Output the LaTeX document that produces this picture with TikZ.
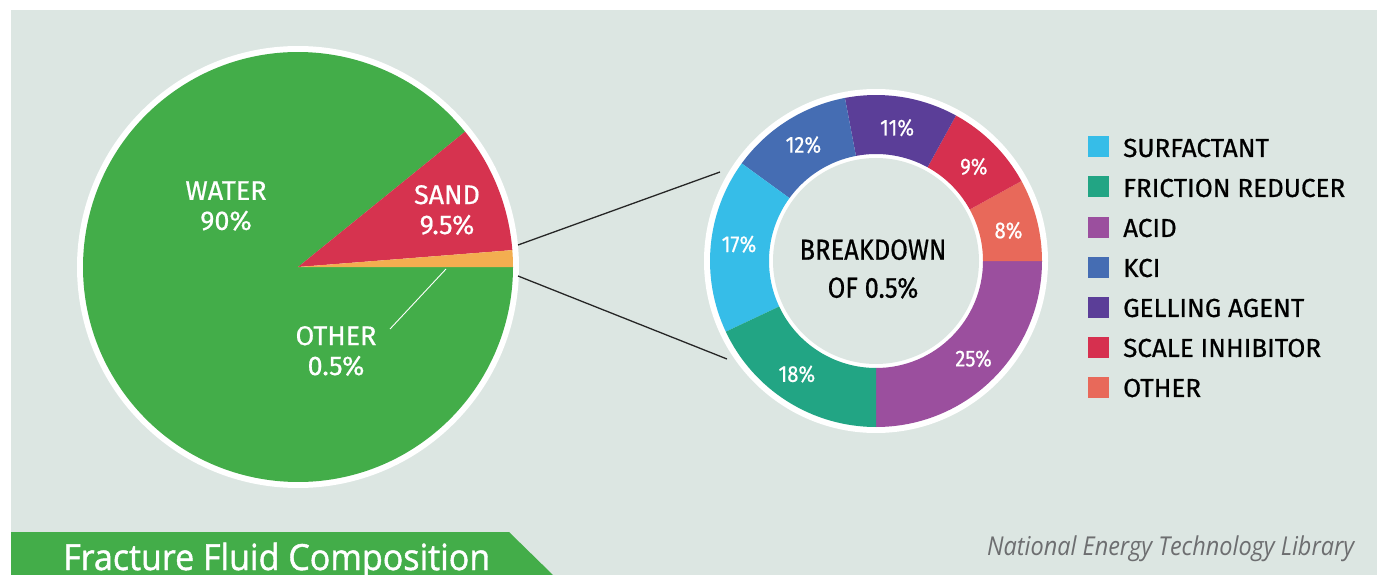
\documentclass[tikz,border=0pt]{standalone}
\usepackage{fontspec}
\usepackage{graphicx}
\usetikzlibrary{calc}
\setmainfont{Fira Sans}
\newfontfamily\din[FakeBold=0.6]{Fira Sans}
\newfontfamily\dinc[FakeStretch=0.88,FakeBold=0.6]{Fira Sans}
\newfontfamily\myr[FakeBold=1.3]{Open Sans}
\newfontfamily\myri{Open Sans}
\definecolor{bg}{HTML}{DCE6E2}
\definecolor{water}{HTML}{43AD49}
\definecolor{sand}{HTML}{D6334F}
\definecolor{orng}{HTML}{F3AE50}
\definecolor{surf}{HTML}{36BDE8}
\definecolor{fric}{HTML}{22A584}
\definecolor{acid}{HTML}{9B4F9E}
\definecolor{kcl}{HTML}{456DB3}
\definecolor{gell}{HTML}{5B3E98}
\definecolor{scal}{HTML}{D6304F}
\definecolor{othr}{HTML}{E8695A}
\definecolor{credit}{HTML}{6D6E70}
\tikzset{
  pielabel/.style={text=white,font=\din\fontsize{27}{30}\selectfont,align=center,inner sep=0pt},
  ringlabel/.style={text=white,font=\dinc\fontsize{23}{26}\selectfont,inner sep=0pt},
  centerlabel/.style={text=black,font=\dinc\fontsize{29}{38}\selectfont,align=center,inner sep=0pt},
  legtext/.style={text=black,font=\din\fontsize{26}{30}\selectfont,anchor=west,inner sep=0pt},
  legbox/.style={minimum size=21pt,inner sep=0pt},
  link/.style={draw=black!85,line width=1.3pt}
}
\begin{document}
\begin{tikzpicture}[x=1pt,y=1pt]
\useasboundingbox (0,0) rectangle (1377,-575);
\fill[white] (0,0) rectangle (1377,-575);
\fill[bg] (11,-10) rectangle (1377,-575);

% ---------- big pie ----------
\coordinate (pc) at (298,-267);
\fill[white] (pc) circle (221);
\fill[water] (pc) -- ++(39:215) arc (39:360:215) -- cycle;
\fill[sand] (pc) -- ++(4.5:215) arc (4.5:39:215) -- cycle;
\fill[orng] (pc) -- ++(0:215) arc (0:4.5:215) -- cycle;
\coordinate (otherA) at (446,-269);
\coordinate (otherB) at (390,-329);
\draw[white,line width=0.9pt] (otherA) -- (otherB);
\node[pielabel] (water) at (226,-206) {WATER\\90\%};
\node[pielabel] (sandl) at (447,-210) {SAND\\9.5\%};
\node[pielabel] (otherl) at (336,-351) {OTHER\\0.5\%};

% ---------- donut ----------
\coordinate (dc) at (876,-261);
\fill[white] (dc) circle (172);
\begin{scope}[shift={(dc)}]
\foreach \a/\b/\c in {-90/0/acid, 0/28.8/othr, 28.8/61.2/scal, 61.2/100.8/gell, 100.8/144/kcl, 144/205.2/surf, 205.2/270/fric}{
  \fill[\c] (\a:166) arc (\a:\b:166) -- (\b:107) arc (\b:\a:107) -- cycle;
}
\end{scope}
\fill[bg] (dc) circle (103);
\node[ringlabel] (p25) at ($(dc)+(-45:138)$) {25\%};
\node[ringlabel] (p8) at ($(dc)+(13:136)$) {8\%};
\node[ringlabel] (p9) at ($(dc)+(44:136)$) {9\%};
\node[ringlabel] (p11) at ($(dc)+(81:135)$) {11\%};
\node[ringlabel] (p12) at ($(dc)+(122:137)$) {12\%};
\node[ringlabel] (p17) at ($(dc)+(173:138)$) {17\%};
\node[ringlabel] (p18) at ($(dc)+(235:138)$) {18\%};
\node[centerlabel] (center) at (873,-269) {BREAKDOWN\\OF 0.5\%};

% ---------- connectors ----------
\coordinate (l1a) at (518,-245);
\coordinate (l1b) at (720,-172);
\coordinate (l2a) at (518,-276);
\coordinate (l2b) at (727,-359);
\draw[link] (l1a) -- (l1b);
\draw[link] (l2a) -- (l2b);

% ---------- legend ----------
\foreach \i/\c/\t in {0/surf/SURFACTANT, 1/fric/FRICTION REDUCER, 2/acid/ACID, 3/kcl/KCI, 4/gell/GELLING AGENT, 5/scal/SCALE INHIBITOR, 6/othr/OTHER}{
  \node[legbox,fill=\c] (lb\i) at (1098.5,-147-40*\i) {};
  \node[legtext] (lt\i) at (1123,-148-40*\i) {\t};
}

% ---------- title bar ----------
\fill[water] (11,-532) -- (509,-532) -- (553,-575) -- (11,-575) -- cycle;
\node[anchor=base west,inner sep=0pt,text=white,font=\myr\fontsize{36}{40}\selectfont] (title) at (63,-570) {\resizebox{427pt}{\height}{Fracture Fluid Composition}};
\node[anchor=base west,inner sep=0pt,text=credit,font=\myri\itshape\fontsize{26}{28}\selectfont] (credit) at (987,-555) {\resizebox{367pt}{\height}{National Energy Technology Library}};
\end{tikzpicture}
\end{document}
